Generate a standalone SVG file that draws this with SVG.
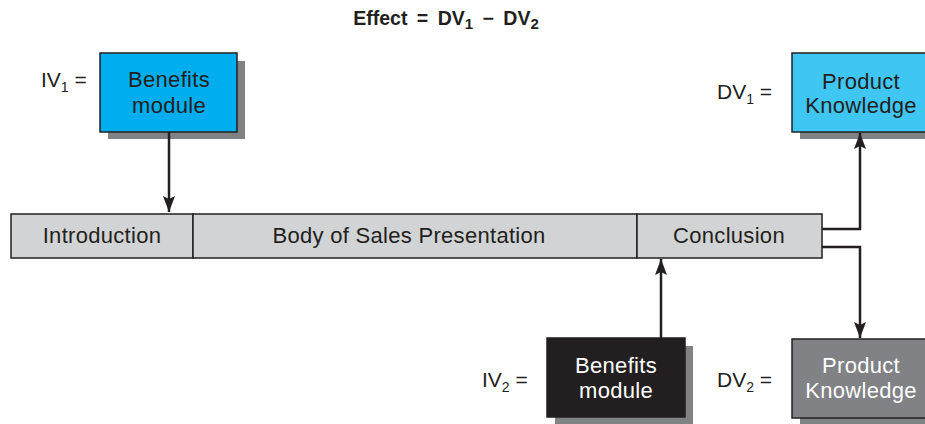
<svg xmlns="http://www.w3.org/2000/svg" width="925" height="424" viewBox="0 0 925 424">
<style>
text{font-family:"Liberation Sans",Arial,sans-serif;fill:#231f20}
.t{font-size:22px;letter-spacing:0.3px;text-anchor:middle}
.lbl{font-size:21px}
.sub{font-size:14px}
.w{fill:#ffffff}
.shadow{fill:#808285}
.box{stroke:#231f20;stroke-width:1.5}
.cell{fill:#d1d3d4;stroke:#231f20;stroke-width:1.5}
.conn{fill:none;stroke:#231f20;stroke-width:2.5}
</style>
<defs>
<marker id="ah" markerUnits="userSpaceOnUse" markerWidth="16" markerHeight="12" viewBox="0 0 16 12" refX="16" refY="6" orient="auto">
<path d="M0,0 L16,6 L0,12 L3,6 Z" fill="#231f20"/>
</marker>
</defs>

<text x="446" y="25" style="font-size:19.5px;font-weight:bold;text-anchor:middle;word-spacing:4px">Effect = DV<tspan dy="4" style="font-size:15px">1</tspan><tspan dy="-4"> − DV</tspan><tspan dy="4" style="font-size:15px">2</tspan></text>

<g id="bar">
<rect class="cell" x="11" y="214" width="182" height="44"/>
<rect class="cell" x="193" y="214" width="444" height="44"/>
<rect class="cell" x="637" y="214" width="185" height="44"/>
<text class="t" x="102" y="243">Introduction</text>
<text class="t" x="409" y="243">Body of Sales Presentation</text>
<text class="t" x="729" y="243">Conclusion</text>
</g>

<g id="iv1">
<text class="lbl" x="41" y="87">IV<tspan class="sub" dy="5">1</tspan><tspan dy="-5"> =</tspan></text>
<rect class="shadow" x="108" y="61" width="137" height="78"/>
<rect class="box" x="100" y="53" width="137" height="79" fill="#00aeef"/>
<text class="t" x="169" y="87">Benefits</text>
<text class="t" x="169" y="113">module</text>
</g>

<g id="dv1">
<text class="lbl" x="717" y="99">DV<tspan class="sub" dy="5">1</tspan><tspan dy="-5"> =</tspan></text>
<rect class="shadow" x="800" y="61" width="135" height="78"/>
<rect class="box" x="792" y="53" width="140" height="79" fill="#3fc6f3"/>
<text class="t" x="861" y="89">Product</text>
<text class="t" x="861" y="113">Knowledge</text>
</g>

<g id="iv2">
<text class="lbl" x="482" y="387">IV<tspan class="sub" dy="5">2</tspan><tspan dy="-5"> =</tspan></text>
<rect class="shadow" x="555" y="346" width="138" height="80"/>
<rect class="box" x="547" y="338" width="138" height="79" fill="#231f20"/>
<text class="t w" x="616" y="373">Benefits</text>
<text class="t w" x="616" y="398">module</text>
</g>

<g id="dv2">
<text class="lbl" x="717" y="387">DV<tspan class="sub" dy="5">2</tspan><tspan dy="-5"> =</tspan></text>
<rect class="shadow" x="800" y="346" width="135" height="80"/>
<rect class="box" x="792" y="339" width="140" height="79" fill="#808285"/>
<text class="t w" x="861" y="373">Product</text>
<text class="t w" x="861" y="398">Knowledge</text>
</g>

<g id="connectors">
<path class="conn" d="M169,132 V212" marker-end="url(#ah)"/>
<path class="conn" d="M661,338 V259" marker-end="url(#ah)"/>
<path class="conn" d="M822,229 H860 V133" marker-end="url(#ah)"/>
<path class="conn" d="M822,247 H860 V338" marker-end="url(#ah)"/>
</g>
</svg>
